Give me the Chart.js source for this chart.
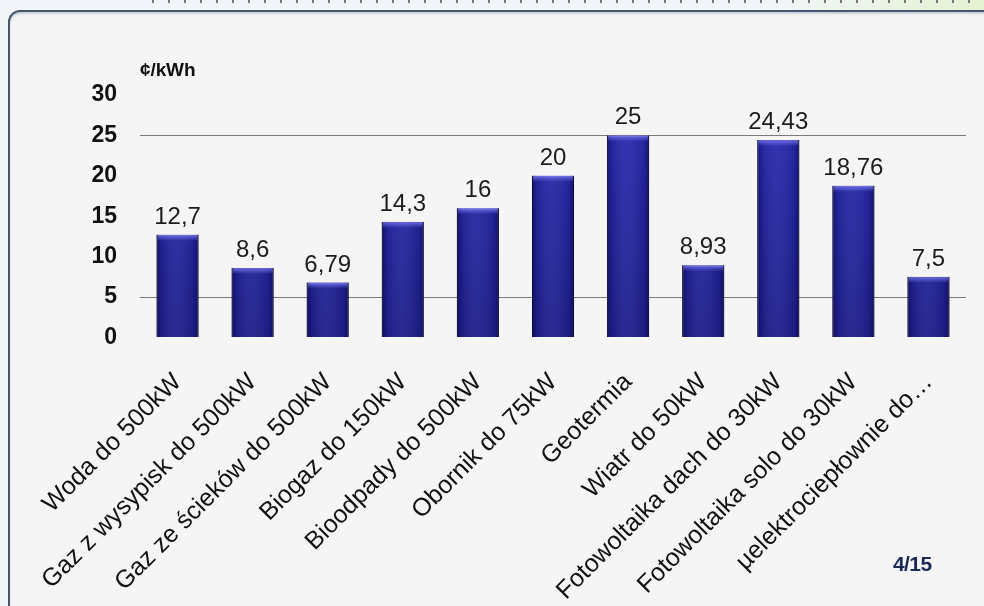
<!DOCTYPE html>
<html>
<head>
<meta charset="utf-8">
<script src="https://cdn.jsdelivr.net/npm/chart.js@4.4.1/dist/chart.umd.min.js"></script>
<style>
html,body{margin:0;padding:0;width:984px;height:606px;overflow:hidden;background:#f2f5f8;font-family:"Liberation Sans",Arial,sans-serif;}
#top{position:absolute;left:0;top:0;width:984px;height:12px;background:linear-gradient(90deg,#f2f6fa 0%,#f2f6fa 78%,#e4f2d2 100%);}
#marks{position:absolute;left:152px;top:0;width:832px;height:3px;background:repeating-linear-gradient(90deg,#777 0 2px,transparent 2px 16px);}
#frame{position:absolute;left:8px;top:10px;width:1010px;height:640px;box-sizing:border-box;border:2px solid #46566e;border-radius:12px;background:#f5f5f5;box-shadow:inset 0 2px 2px rgba(120,140,170,0.35);}
#wrap{position:absolute;left:0;top:0;width:984px;height:606px;}
#unit{position:absolute;left:140px;top:59px;font:bold 19px "Liberation Sans",Arial,sans-serif;color:#111;letter-spacing:-0.1px;}
#page{position:absolute;left:893px;top:552px;font:bold 21px "Liberation Sans",Arial,sans-serif;color:#1b2a55;letter-spacing:-0.6px;}
</style>
</head>
<body>
<div id="top"><div id="marks"></div></div>
<div id="frame"></div>
<div id="wrap"><canvas id="c" width="984" height="606"></canvas></div>
<div id="unit">¢/kWh</div>
<div id="page">4/15</div>
<script>
const categories = [
  "Woda do 500kW",
  "Gaz z wysypisk do 500kW",
  "Gaz ze ścieków do 500kW",
  "Biogaz do 150kW",
  "Bioodpady do 500kW",
  "Obornik do 75kW",
  "Geotermia",
  "Wiatr do 50kW",
  "Fotowoltaika dach do 30kW",
  "Fotowoltaika solo do 30kW",
  "µelektrociepłownie do…"
];
const values = [12.7, 8.6, 6.79, 14.3, 16, 20, 25, 8.93, 24.43, 18.76, 7.5];
const yMin = 0;
const yMax = 30;
const yStep = 5;
const gridValues = [5, 25];

function fmt(v){ return String(v).replace('.', ','); }

const barStyle = {
  id: 'barStyle',
  afterDatasetsDraw(chart){
    const ctx = chart.ctx;
    const meta = chart.getDatasetMeta(0);
    meta.data.forEach((bar, i) => {
      const left = bar.x - bar.width/2;
      const w = bar.width;
      const top = bar.y;
      const h = bar.base - bar.y;
      ctx.save();
      const g = ctx.createLinearGradient(left, 0, left + w, 0);
      g.addColorStop(0, 'rgba(5,5,40,0.55)');
      g.addColorStop(0.1, 'rgba(5,5,40,0.12)');
      g.addColorStop(0.45, 'rgba(255,255,255,0.06)');
      g.addColorStop(0.9, 'rgba(5,5,40,0.12)');
      g.addColorStop(1, 'rgba(5,5,40,0.55)');
      ctx.fillStyle = g;
      ctx.fillRect(left, top, w, h);
      const hg = ctx.createLinearGradient(0, top, 0, top + 6);
      hg.addColorStop(0, 'rgba(130,130,255,0.75)');
      hg.addColorStop(1, 'rgba(130,130,255,0)');
      ctx.fillStyle = hg;
      ctx.fillRect(left + 1, top, w - 2, 6);
      ctx.fillStyle = '#1c1c1c';
      ctx.font = '24px "Liberation Sans", Arial, sans-serif';
      ctx.textAlign = 'center';
      ctx.textBaseline = 'alphabetic';
      ctx.fillText(fmt(values[i]), bar.x, top - 11);
      ctx.restore();
    });
  }
};

new Chart(document.getElementById('c'), {
  type: 'bar',
  data: {
    labels: categories,
    datasets: [{
      data: values,
      backgroundColor: (c) => {
        const ca = c.chart.chartArea;
        if (!ca) return '#2222a0';
        const g = c.chart.ctx.createLinearGradient(0, ca.top, 0, ca.bottom);
        g.addColorStop(0, '#2a2ab4');
        g.addColorStop(1, '#1c1c8a');
        return g;
      },
      borderColor: '#12124e',
      borderWidth: 1,
      barPercentage: 0.56,
      categoryPercentage: 1
    }]
  },
  options: {
    responsive: false,
    animation: false,
    layout: { padding: { left: 0, right: 18, top: 95, bottom: 0 } },
    plugins: { legend: { display: false }, tooltip: { enabled: false } },
    scales: {
      x: {
        grid: { display: false, drawTicks: false },
        border: { display: false },
        ticks: {
          minRotation: 45, maxRotation: 45, autoSkip: false, padding: 30,
          color: '#111',
          font: { family: '"Liberation Sans", Arial, sans-serif', size: 25 }
        },
        afterFit(s){ s.height = 268.5; }
      },
      y: {
        min: yMin, max: yMax,
        grid: {
          drawTicks: false,
          color: (c) => gridValues.includes(c.tick && c.tick.value) ? '#7a7a7a' : 'rgba(0,0,0,0)',
          lineWidth: 1
        },
        border: { display: false },
        ticks: {
          stepSize: yStep, padding: 23, color: '#111',
          font: { family: '"Liberation Sans", Arial, sans-serif', size: 23, weight: 'bold' }
        },
        afterFit(s){ s.width = 140; }
      }
    }
  },
  plugins: [barStyle]
});
</script>
</body>
</html>
